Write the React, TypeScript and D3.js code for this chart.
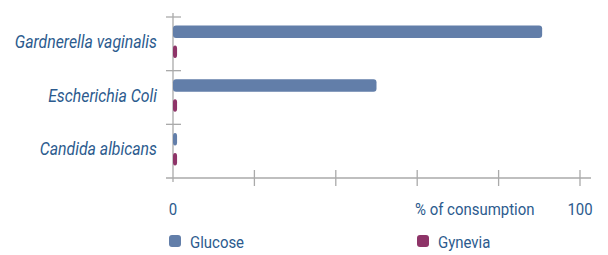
import React from 'react';
import * as d3 from 'd3';

const categories = ['Gardnerella vaginalis', 'Escherichia Coli', 'Candida albicans'];
const glucose = [90.7, 50, 1];
const gynevia = [1, 1, 1];
const xTicks = [0, 20, 40, 60, 80, 100];
const seriesNames = ['Glucose', 'Gynevia'];

const W = 608, H = 255;
const textColor = '#2c5b8e';
const axisColor = '#aaaaaa';
const colors = ['#627ea9', '#8e3468'];
const font = 'Roboto, sans-serif';
const squeeze = 0.88; // narrow font stand-in

function Label(props: { x: number; y: number; size: number; anchor?: string; italic?: boolean; children: React.ReactNode }) {
  const { x, y, size, anchor, italic, children } = props;
  return (
    <text transform={`translate(${x},${y}) scale(${squeeze},1)`} textAnchor={anchor || 'start'}
      fontFamily={font} fontStyle={italic ? 'italic' : 'normal'} fontSize={size} fill={textColor}>
      {children}
    </text>
  );
}

export default function App() {
  const x = d3.scaleLinear().domain([0, 100]).range([173, 580]);
  const y = d3.scaleBand().domain(categories).range([17, 178]);
  const sub = d3.scaleBand().domain(seriesNames).range([-2, y.bandwidth() - 2]).paddingInner(0.375).paddingOuter(0.53);
  const series = [glucose, gynevia];
  const base = y.range()[1];

  return (
    <svg width={W} height={H} style={{ position: 'absolute', left: 0, top: 0, background: '#fff' }}>
      {/* y axis */}
      <line x1={x(0)} x2={x(0)} y1={13} y2={182} stroke={axisColor} strokeWidth={1.3} />
      {categories.map(c => (
        <line key={c} x1={166} x2={181} y1={y(c)!} y2={y(c)!} stroke={axisColor} strokeWidth={1.3} />
      ))}
      {/* x axis */}
      <line x1={166} x2={591} y1={base} y2={base} stroke={axisColor} strokeWidth={1.3} />
      {xTicks.slice(1).map(t => (
        <line key={t} x1={x(t)} x2={x(t)} y1={base - 8} y2={base + 8} stroke={axisColor} strokeWidth={1.3} />
      ))}
      {/* bars */}
      {series.map((vals, si) =>
        categories.map((c, i) => (
          <rect key={c + si} x={x(0)} y={y(c)! + sub(seriesNames[si])!}
            width={Math.max(x(vals[i]) - x(0), 0)} height={sub.bandwidth()}
            rx={3} fill={colors[si]} />
        ))
      )}
      {/* category labels */}
      {categories.map(c => (
        <Label key={c} x={157} y={y(c)! + y.bandwidth() / 2 + 4} size={18} anchor="end" italic>{c}</Label>
      ))}
      {/* x labels */}
      <Label x={x(0)} y={215} size={17} anchor="middle">0</Label>
      <Label x={x(100)} y={215} size={17} anchor="middle">100</Label>
      <Label x={415} y={215} size={17}>% of consumption</Label>
      {/* legend */}
      {seriesNames.map((s, i) => (
        <g key={s} transform={`translate(${i === 0 ? 169 : 417},235)`}>
          <rect width={12} height={12} rx={3} fill={colors[i]} />
          <Label x={21} y={13} size={17}>{s}</Label>
        </g>
      ))}
    </svg>
  );
}
